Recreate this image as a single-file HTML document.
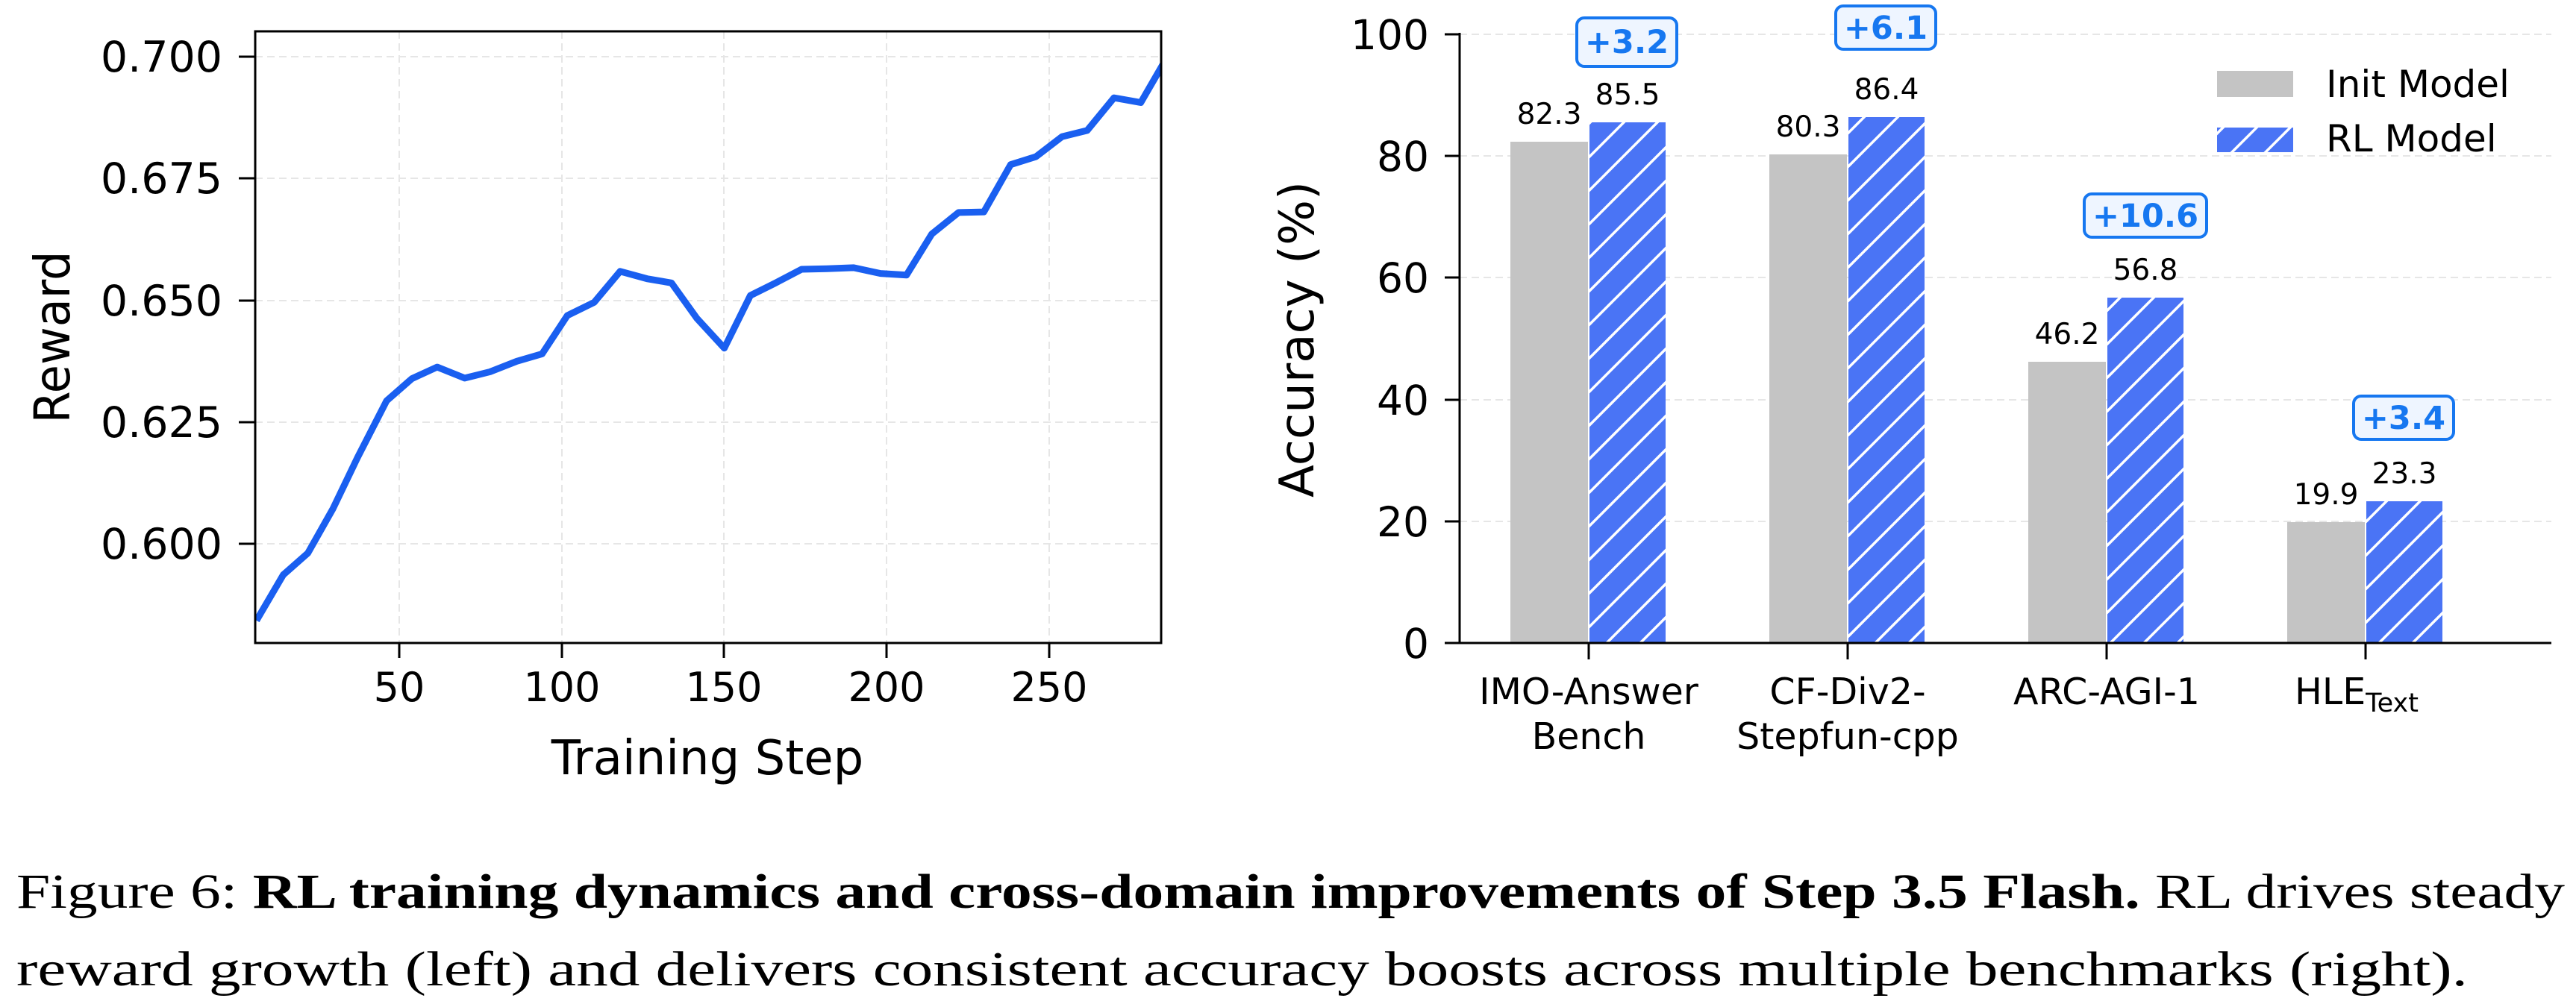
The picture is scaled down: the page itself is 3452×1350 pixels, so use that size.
<!DOCTYPE html>
<html><head><meta charset="utf-8"><style>body{margin:0;background:#fff}svg{display:block}</style></head><body>
<svg width="3452" height="1350" viewBox="0 0 3452 1350" xmlns="http://www.w3.org/2000/svg" font-family="'DejaVu Sans', 'Liberation Sans', sans-serif">
<defs>
<pattern id="h" patternUnits="userSpaceOnUse" width="45" height="45">
<rect width="45" height="45" fill="#4a74f5"/>
<path d="M-5,5 L5,-5 M0,45 L45,0 M40,50 L50,40" stroke="#fff" stroke-width="3.5"/>
</pattern>
<clipPath id="c1"><rect x="342" y="42" width="1214" height="820"/></clipPath>
</defs>
<!-- LEFT -->
<g stroke="#e6e6e6" stroke-width="2" stroke-dasharray="10,6">
<line x1="342" x2="1556" y1="76" y2="76"/><line x1="342" x2="1556" y1="239" y2="239"/><line x1="342" x2="1556" y1="403" y2="403"/><line x1="342" x2="1556" y1="566" y2="566"/><line x1="342" x2="1556" y1="729" y2="729"/>
<line x1="535" x2="535" y1="42" y2="862"/><line x1="753" x2="753" y1="42" y2="862"/><line x1="970" x2="970" y1="42" y2="862"/><line x1="1188" x2="1188" y1="42" y2="862"/><line x1="1406" x2="1406" y1="42" y2="862"/>
</g>
<g clip-path="url(#c1)">
<polyline transform="scale(1.026,0.705)" vector-effect="non-scaling-stroke" fill="none" stroke="#1a5ff0" stroke-width="9" stroke-linejoin="round" points="335,1180 370,1093 402,1052 435,967 467,870 505,762 538,720 571,698 607,719 640,707 675,687 708,673 741,600 776,575 810,516 845,530 877,538 910,605 946,662 980,562 1013,538 1047,512 1080,511 1115,509 1150,520 1184,523 1217,445 1252,404 1285,403 1320,313 1353,298 1387,260 1420,248 1455,186 1490,195 1523,112"/>
</g>
<rect x="342" y="42" width="1214" height="820" fill="none" stroke="#000" stroke-width="3"/>
<g stroke="#000" stroke-width="3">
<line x1="320" x2="342" y1="76" y2="76"/><line x1="320" x2="342" y1="239" y2="239"/><line x1="320" x2="342" y1="403" y2="403"/><line x1="320" x2="342" y1="566" y2="566"/><line x1="320" x2="342" y1="729" y2="729"/>
<line x1="535" x2="535" y1="862" y2="882"/><line x1="753" x2="753" y1="862" y2="882"/><line x1="970" x2="970" y1="862" y2="882"/><line x1="1188" x2="1188" y1="862" y2="882"/><line x1="1406" x2="1406" y1="862" y2="882"/>
</g>
<g font-size="57" text-anchor="end">
<text x="298" y="96">0.700</text><text x="298" y="259">0.675</text><text x="298" y="423">0.650</text><text x="298" y="586">0.625</text><text x="298" y="749">0.600</text>
</g>
<g font-size="54" text-anchor="middle">
<text x="535" y="940">50</text><text x="753" y="940">100</text><text x="970" y="940">150</text><text x="1188" y="940">200</text><text x="1406" y="940">250</text>
</g>
<text x="948" y="1038" font-size="64" text-anchor="middle">Training Step</text>
<text transform="translate(93,452) rotate(-90)" font-size="66" text-anchor="middle" textLength="231" lengthAdjust="spacingAndGlyphs">Reward</text>
<!-- RIGHT -->
<g stroke="#e6e6e6" stroke-width="2" stroke-dasharray="10,6">
<line x1="1956" x2="3419" y1="46" y2="46"/><line x1="1956" x2="3419" y1="209" y2="209"/><line x1="1956" x2="3419" y1="372" y2="372"/><line x1="1956" x2="3419" y1="536" y2="536"/><line x1="1956" x2="3419" y1="699" y2="699"/>
</g>
<g fill="#c4c4c4">
<rect x="2024" y="190" width="104" height="672"/><rect x="2371" y="207" width="104" height="655"/><rect x="2718" y="485" width="104" height="377"/><rect x="3065" y="700" width="104" height="162"/>
</g>
<g fill="url(#h)">
<rect x="2130" y="164" width="102" height="698"/><rect x="2477" y="157" width="102" height="705"/><rect x="2824" y="399" width="102" height="463"/><rect x="3171" y="672" width="102" height="190"/>
</g>
<g stroke="#000" stroke-width="3">
<line x1="1956" x2="1956" y1="44" y2="862"/><line x1="1954" x2="3419" y1="862" y2="862"/>
<line x1="1936" x2="1956" y1="46" y2="46"/><line x1="1936" x2="1956" y1="209" y2="209"/><line x1="1936" x2="1956" y1="372" y2="372"/><line x1="1936" x2="1956" y1="536" y2="536"/><line x1="1936" x2="1956" y1="699" y2="699"/><line x1="1936" x2="1956" y1="862" y2="862"/>
<line x1="2129" x2="2129" y1="862" y2="884"/><line x1="2476" x2="2476" y1="862" y2="884"/><line x1="2823" x2="2823" y1="862" y2="884"/><line x1="3170" x2="3170" y1="862" y2="884"/>
</g>
<g font-size="55" text-anchor="end">
<text x="1915" y="66">100</text><text x="1915" y="229">80</text><text x="1915" y="392">60</text><text x="1915" y="556">40</text><text x="1915" y="719">20</text><text x="1915" y="882">0</text>
</g>
<text transform="translate(1760,455) rotate(-90)" font-size="64" text-anchor="middle" textLength="424" lengthAdjust="spacingAndGlyphs">Accuracy (%)</text>
<g font-size="49" text-anchor="middle">
<text x="2129" y="944">IMO-Answer</text><text x="2129" y="1004">Bench</text>
<text x="2476" y="944">CF-Div2-</text><text x="2476" y="1004">Stepfun-cpp</text>
<text x="2823" y="944">ARC-AGI-1</text>
<text x="3158" y="944">HLE<tspan font-size="35" dy="10">Text</tspan></text>
</g>
<g font-size="39" text-anchor="middle">
<text x="2076" y="166">82.3</text><text x="2181" y="140">85.5</text>
<text x="2423" y="183">80.3</text><text x="2528" y="133">86.4</text>
<text x="2770" y="461">46.2</text><text x="2875" y="375">56.8</text>
<text x="3117" y="676">19.9</text><text x="3222" y="648">23.3</text>
</g>
<g fill="#eef5ff" stroke="#1677f0" stroke-width="4">
<rect x="2113" y="24" width="134" height="65" rx="10"/>
<rect x="2460" y="8" width="134" height="58" rx="10"/>
<rect x="2793" y="260" width="164" height="58" rx="10"/>
<rect x="3154" y="531" width="134" height="58" rx="10"/>
</g>
<g font-size="43" font-weight="bold" fill="#1677f0" text-anchor="middle">
<text x="2180" y="71">+3.2</text><text x="2527" y="52">+6.1</text><text x="2875" y="304">+10.6</text><text x="3221" y="575">+3.4</text>
</g>
<rect x="2971" y="95" width="102" height="35" fill="#c4c4c4"/>
<rect x="2971" y="171" width="102" height="33" fill="url(#h)"/>
<g font-size="50"><text x="3117" y="130">Init Model</text><text x="3117" y="203">RL Model</text></g>
<!-- caption -->
<g font-family="'Liberation Serif', serif" font-size="66">
<text x="22" y="1217" textLength="3415" lengthAdjust="spacingAndGlyphs">Figure 6: <tspan font-weight="bold">RL training dynamics and cross-domain improvements of Step 3.5 Flash.</tspan> RL drives steady</text>
<text x="22" y="1321" textLength="3285" lengthAdjust="spacingAndGlyphs">reward growth (left) and delivers consistent accuracy boosts across multiple benchmarks (right).</text>
</g>
</svg>
</body></html>
